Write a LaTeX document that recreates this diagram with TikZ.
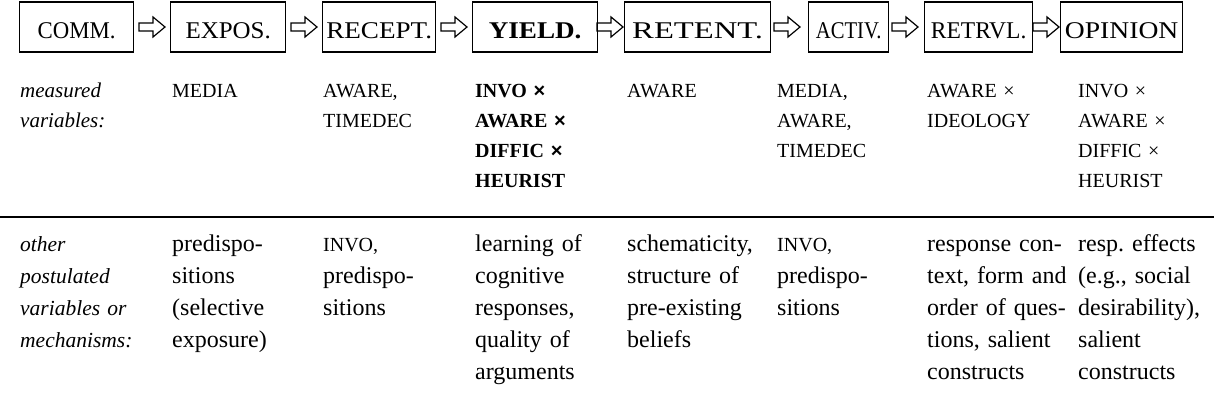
\documentclass[tikz,border=0pt]{standalone}
\usepackage{graphicx}
\usepackage{fontspec}
\setmainfont{Liberation Serif}
\newfontfamily\xsans{Liberation Sans}
\newcommand{\sx}[2]{\scalebox{#1}[1]{#2}}
\newcommand{\blockarrow}[2]{\draw[arr] ([xshift=-#2pt]#1.west) -- ++(-12,-10) -- ++(0,6) -- ++(-14,0) -- ++(0,8) -- ++(14,0) -- ++(0,6) -- cycle;}
\begin{document}
\begin{tikzpicture}[x=1pt,y=-1pt,
  stage/.style={draw, line width=1.3pt, minimum height=50pt, inner sep=0pt, anchor=west,
    text height=24pt, text depth=0pt, font=\fontsize{24}{28}\selectfont},
  arr/.style={draw, line width=1.2pt, line join=miter},
  meas/.style={anchor=base west, inner sep=0pt, text width=150pt, align=left, font=\fontsize{20}{30}\selectfont},
  measlabel/.style={meas, font=\fontsize{21}{30}\selectfont\itshape},
  measbold/.style={meas, font=\fontsize{20}{30}\selectfont\bfseries},
  other/.style={anchor=base west, inner sep=0pt, text width=150pt, align=left, font=\fontsize{24}{32}\selectfont},
  otherlabel/.style={other, font=\fontsize{21.5}{32}\selectfont\itshape}
]
\useasboundingbox (0,0) rectangle (1214,406);

% stages
\node[stage, minimum width=114pt] (comm) at (19,27) {\sx{0.95}{COMM.}};
\node[stage, minimum width=115pt] (expos) at (170,27) {\sx{1.04}{EXPOS.}};
\node[stage, minimum width=113pt] (recept) at (322,27) {\sx{1.13}{RECEPT.}};
\node[stage, minimum width=125pt, font=\fontsize{24}{28}\selectfont\bfseries] (yield) at (472,27) {\sx{1.13}{YIELD.}};
\node[stage, minimum width=146pt] (retent) at (624,27) {\sx{1.36}{RETENT.}};
\node[stage, minimum width=80pt] (activ) at (808,27) {\sx{0.86}{ACTIV.}};
\node[stage, minimum width=108pt] (retrvl) at (924,27) {\sx{0.98}{RETRVL.}};
\node[stage, minimum width=122pt] (opinion) at (1060,27) {\sx{1.15}{OPINION}};

% block arrows
\blockarrow{expos}{5}
\blockarrow{recept}{5}
\blockarrow{yield}{5}
\blockarrow{retent}{1}
\blockarrow{activ}{8}
\blockarrow{retrvl}{6}
\blockarrow{opinion}{1}

% measured variables
\node[measlabel] (m0) at (20,98) {measured\\variables:};
\node[meas] (m1) at (172,98) {MEDIA};
\node[meas] (m2) at (323,98) {AWARE,\\TIMEDEC};
\node[measbold] (m3) at (475,98) {INVO {\xsans\bfseries ×}\\AWARE {\xsans\bfseries ×}\\DIFFIC {\xsans\bfseries ×}\\HEURIST};
\node[meas] (m4) at (627,98) {AWARE};
\node[meas] (m5) at (777,98) {MEDIA,\\AWARE,\\TIMEDEC};
\node[meas] (m6) at (927,98) {AWARE ×\\IDEOLOGY};
\node[meas] (m7) at (1078,98) {INVO ×\\AWARE ×\\DIFFIC ×\\HEURIST};

% rule
\draw[line width=2pt] (0,217) -- (1214,217);

% other postulated variables
\node[otherlabel] (o0) at (20,251) {other\\postulated\\variables or\\mechanisms:};
\node[other] (o1) at (172,251) {predispo-\\sitions\\(selective\\exposure)};
\node[other] (o2) at (323,251) {{\fontsize{20}{32}\selectfont INVO,}\\predispo-\\sitions};
\node[other] (o3) at (475,251) {learning of\\cognitive\\responses,\\quality of\\arguments};
\node[other] (o4) at (627,251) {schematicity,\\structure of\\pre-existing\\beliefs};
\node[other] (o5) at (777,251) {{\fontsize{20}{32}\selectfont INVO,}\\predispo-\\sitions};
\node[other] (o6) at (927,251) {response con-\\text, form and\\order of ques-\\tions, salient\\constructs};
\node[other] (o7) at (1078,251) {resp.\ effects\\(e.g., social\\desirability),\\salient\\constructs};
\end{tikzpicture}
\end{document}
